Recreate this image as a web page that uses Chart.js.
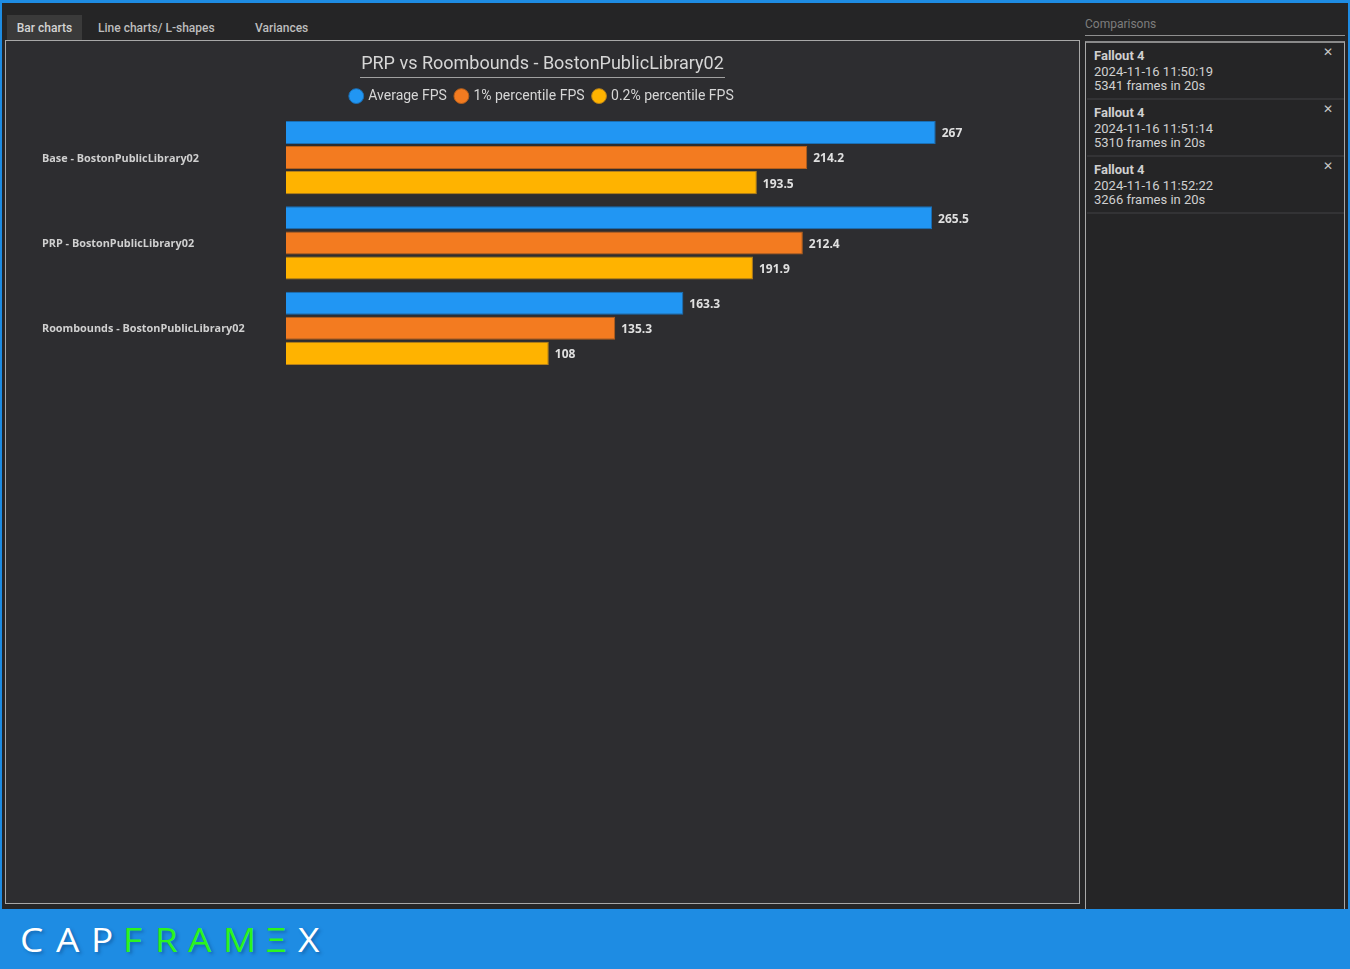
<!DOCTYPE html>
<html>
<head>
<meta charset="utf-8">
<title>CapFrameX</title>
<script src="https://cdn.jsdelivr.net/npm/chart.js@4"></script>
<style>
html, body { margin: 0; padding: 0; width: 1350px; height: 969px; overflow: hidden; background: #252526; font-family: Roboto, sans-serif; }
.abs { position: absolute; }
#topbar { left: 0; top: 0; width: 1350px; height: 3px; background: #1e8ce3; }
#leftbar { left: 0; top: 0; width: 2px; height: 969px; background: #1e8ce3; }
#rightbar { left: 1348px; top: 0; width: 2px; height: 969px; background: #1e8ce3; }
.tab { top: 15px; height: 25px; line-height: 26px; font-size: 12px; font-weight: 500; color: #bdbdbd; white-space: nowrap; }
#tabActive { left: 7px; width: 75px; background: #3a3a3a; color: #d4d4d4; text-align: center; }
#frame { left: 5px; top: 40px; width: 1073px; height: 862px; border: 1px solid #a8a8a8; background: #2d2d30; }
#chartBox { left: 6px; top: 41px; width: 1073px; height: 862px; }
#sideTitle { left: 1085px; top: 17px; font-size: 12px; color: #7d7d7d; }
#sideLine { left: 1085px; top: 35px; width: 260px; height: 1px; background: #8f8f8f; }
#sideBox { left: 1085px; top: 41px; width: 258px; height: 870px; border: 1px solid #a8a8a8; border-top: 2px solid #8a8a8a; box-sizing: content-box; }
.item { left: 1087px; width: 257px; height: 55px; border-bottom: 2px solid #333335; font-size: 13px; line-height: 14px; color: #d0d0d0; }
.item b { position: absolute; left: 7px; top: 6px; font-weight: 700; }
.item span { position: absolute; left: 7px; white-space: nowrap; }
.item i { position: absolute; left: 236px; top: 2px; font-style: normal; font-size: 12px; color: #c8c8c8; }
#footer { left: 0; top: 909px; width: 1350px; height: 60px; background: #1e8ce3; }
#logo span { position: absolute; top: 920px; font-family: "Open Sans", sans-serif; font-size: 33px; line-height: 40px; color: #ffffff; text-shadow: 2px 2px 3px rgba(0,40,90,0.35); transform: scaleX(1.12); transform-origin: left center; }
#logo span.g { color: #2cf51e; }
</style>
</head>
<body>
<div class="abs" id="topbar"></div>
<div class="abs" id="leftbar"></div>
<div class="abs" id="rightbar"></div>
<div class="abs tab" id="tabActive">Bar charts</div>
<div class="abs tab" style="left:98px">Line charts/ L-shapes</div>
<div class="abs tab" style="left:255px">Variances</div>
<div class="abs" id="frame"></div>
<div class="abs" id="chartBox"><canvas id="grafico" width="1073" height="862"></canvas></div>
<div class="abs" id="sideTitle">Comparisons</div>
<div class="abs" id="sideLine"></div>
<div class="abs" id="sideBox"></div>
<div id="lista"></div>
<div class="abs" id="footer"></div>
<div id="logo">
  <span style="left:20px">C</span><span style="left:56px">A</span><span style="left:91px">P</span>
  <span class="g" style="left:123px">F</span><span class="g" style="left:155px">R</span><span class="g" style="left:188px">A</span>
  <span class="g" style="left:223px">M</span><span class="g" style="left:266px">Ξ</span><span style="left:298px">X</span>
</div>
<script>
const categorias = ['Base - BostonPublicLibrary02', 'PRP - BostonPublicLibrary02', 'Roombounds - BostonPublicLibrary02'];
const mediaFps = [267, 265.5, 163.3];
const percentil1 = [214.2, 212.4, 135.3];
const percentil02 = [193.5, 191.9, 108];
const nomesSeries = ['Average FPS', '1% percentile FPS', '0.2% percentile FPS'];
const coresSeries = ['#2196f3', '#f37b20', '#ffb300'];
const bordasSeries = ['#1a6fb5', '#b5601c', '#b5801a'];
const titulo = 'PRP vs Roombounds - BostonPublicLibrary02';
const capturas = [
    ['Fallout 4', '2024-11-16 11:50:19', '5341 frames in 20s'],
    ['Fallout 4', '2024-11-16 11:51:14', '5310 frames in 20s'],
    ['Fallout 4', '2024-11-16 11:52:22', '3266 frames in 20s']
];

// sidebar
const lista = document.getElementById('lista');
capturas.forEach((c, i) => {
    const el = document.createElement('div');
    el.className = 'abs item';
    el.style.top = (43 + i * 57) + 'px';
    el.innerHTML = `<b>${c[0]}</b><span style="top:22px">${c[1]}</span><span style="top:36px">${c[2]}</span><i>✕</i>`;
    lista.appendChild(el);
});

// valores na ponta das barras e linha sob o titulo
const rotulosBarras = {
    id: 'rotulosBarras',
    afterDatasetsDraw(chart) {
        const ctx = chart.ctx;
        ctx.save();
        ctx.font = '700 12px "Open Sans"';
        ctx.fillStyle = '#e0e0e0';
        ctx.textAlign = 'left';
        ctx.textBaseline = 'middle';
        chart.data.datasets.forEach((ds, i) => {
            chart.getDatasetMeta(i).data.forEach((bar, j) => {
                ctx.fillText(ds.data[j], bar.x + 6, bar.y + 1.5);
            });
        });
        ctx.restore();
    }
};
const linhaTitulo = {
    id: 'linhaTitulo',
    afterDraw(chart) {
        const ctx = chart.ctx;
        ctx.save();
        ctx.strokeStyle = '#a0a0a0';
        ctx.lineWidth = 1;
        ctx.beginPath();
        ctx.moveTo(354, 36.5);
        ctx.lineTo(719, 36.5);
        ctx.stroke();
        ctx.restore();
    }
};

new Chart(document.getElementById('grafico'), {
    type: 'bar',
    data: {
        labels: categorias,
        datasets: nomesSeries.map((nome, i) => ({
            label: nome,
            data: [mediaFps, percentil1, percentil02][i],
            backgroundColor: coresSeries[i],
            borderColor: bordasSeries[i],
            borderWidth: 1
        }))
    },
    options: {
        indexAxis: 'y',
        responsive: false,
        animation: false,
        layout: { padding: { left: 36, right: 36, top: 0, bottom: 532 } },
        plugins: {
            tooltip: { enabled: false },
            title: {
                display: true,
                text: titulo,
                color: '#d6d6d6',
                font: { family: 'Roboto', size: 18, weight: '400' },
                padding: { top: 13, bottom: 4 }
            },
            legend: {
                display: true,
                labels: {
                    usePointStyle: true,
                    pointStyle: 'circle',
                    boxWidth: 10,
                    boxHeight: 10.5,
                    padding: 9.5,
                    color: '#d6d6d6',
                    font: { family: 'Roboto', size: 14 }
                }
            }
        },
        scales: {
            // eixo invisivel, so reserva o espaco entre a legenda e as barras
            x: {
                position: 'top',
                min: 0,
                max: 311.1,
                grid: { display: false },
                border: { display: false },
                ticks: { display: false },
                afterFit(scale) { scale.height = 1.75; }
            },
            y: {
                grid: { display: false },
                border: { display: false },
                afterFit(scale) { scale.width = 244; },
                ticks: {
                    crossAlign: 'far',
                    autoSkip: false,
                    labelOffset: 1,
                    color: '#d0d0d0',
                    font: { family: 'Open Sans', size: 10.85, weight: '700' }
                }
            }
        },
        datasets: { bar: { categoryPercentage: 0.882, barPercentage: 0.92 } }
    },
    plugins: [rotulosBarras, linhaTitulo]
});
</script>
</body>
</html>
